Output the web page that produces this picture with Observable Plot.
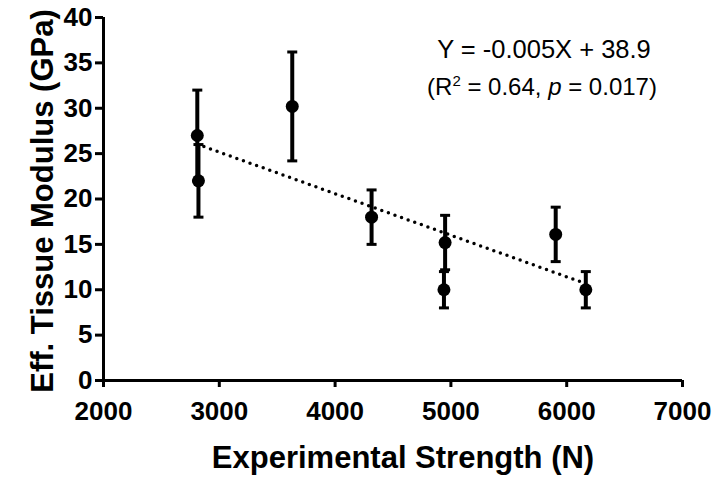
<!DOCTYPE html>
<html><head><meta charset="utf-8">
<script src="https://cdn.jsdelivr.net/npm/d3@7"></script>
<script src="https://cdn.jsdelivr.net/npm/@observablehq/plot@0.6"></script>
<style>
body{margin:0;background:#fff}
#chart svg{font-family:"Liberation Sans",Arial,sans-serif;color:#000}
</style>
</head><body><div id="chart"></div>
<script>
// ---- data ----
const strength = [2810, 2820, 3630, 4315, 4950, 4940, 5905, 6165];   // Experimental Strength (N)
const modulus  = [27, 22, 30.2, 18, 15.2, 10, 16.1, 10];             // Eff. Tissue Modulus (GPa)
const errorBar = [5, 4, 6, 3, 3, 2, 3, 2];                           // ± error (GPa)
const xTicks = [2000, 3000, 4000, 5000, 6000, 7000];
const yTicks = [0, 5, 10, 15, 20, 25, 30, 35, 40];
const equationText = "Y = -0.005X + 38.9";
const statsParts = ["(R", "2", " = 0.64, ", "p", " = 0.017)"];
const xTitle = "Experimental Strength (N)";
const yTitle = "Eff. Tissue Modulus (GPa)";

const data = strength.map((x, i) => ({x, y: modulus[i], lo: modulus[i] - errorBar[i], hi: modulus[i] + errorBar[i]}));
const capSymbol = {draw(ctx) { ctx.moveTo(-5, 0); ctx.lineTo(5, 0); }};

const chart = Plot.plot({
  width: 717, height: 480,
  marginLeft: 103, marginRight: 35, marginTop: 17, marginBottom: 100,
  x: {domain: [2000, 7000]},
  y: {domain: [0, 40]},
  style: {fontFamily: '"Liberation Sans", Arial, sans-serif', color: "#000", background: "#fff"},
  marks: [
    Plot.axisX({ticks: xTicks, tickSize: 7, tickPadding: 14, tickFormat: d => String(d), fontSize: 26, fontWeight: "bold", strokeWidth: 3, label: null}),
    Plot.axisY({ticks: yTicks, tickSize: 8, tickPadding: 3, fontSize: 26, fontWeight: "bold", strokeWidth: 3, label: null}),
    Plot.ruleY([0], {strokeWidth: 3}),
    Plot.ruleX([2000], {strokeWidth: 3}),
    Plot.linearRegressionY(data, {x: "x", y: "y", ci: 0, stroke: "#000", strokeWidth: 3.5, strokeDasharray: "0,7", strokeLinecap: "round"}),
    Plot.ruleX(data, {x: "x", y1: "lo", y2: "hi", strokeWidth: 4}),
    Plot.dot(data, {x: "x", y: "lo", symbol: capSymbol, r: 5, fill: "none", stroke: "#000", strokeWidth: 3}),
    Plot.dot(data, {x: "x", y: "hi", symbol: capSymbol, r: 5, fill: "none", stroke: "#000", strokeWidth: 3}),
    Plot.dot(data, {x: "x", y: "y", r: 6.5, fill: "#000", stroke: "none"}),
    Plot.text([xTitle], {frameAnchor: "bottom", lineAnchor: "bottom", textAnchor: "middle", dx: 10, dy: 87, fontSize: 31, fontWeight: "bold"}),
    Plot.text([yTitle], {frameAnchor: "left", lineAnchor: "bottom", textAnchor: "middle", rotate: -90, dx: -51, dy: 2, fontSize: 31, fontWeight: "bold"}),
    Plot.text([equationText], {frameAnchor: "top", lineAnchor: "bottom", textAnchor: "middle", dx: 151, dy: 40, fontSize: 25.5}),
    Plot.text([statsParts.join("")], {frameAnchor: "top", lineAnchor: "bottom", textAnchor: "middle", dx: 149, dy: 77, fontSize: 24, className: "stats"})
  ]
});

// rich text for the statistics line (superscript 2, italic p)
d3.select(chart).selectAll(".stats text").each(function() {
  const t = d3.select(this);
  t.text(null);
  t.append("tspan").text(statsParts[0]);
  t.append("tspan").attr("font-size", 15).attr("dy", -9).text(statsParts[1]);
  t.append("tspan").attr("dy", 9).text(statsParts[2]);
  t.append("tspan").attr("font-style", "italic").text(statsParts[3]);
  t.append("tspan").text(statsParts[4]);
});

document.getElementById("chart").append(chart);
</script>
</body></html>
